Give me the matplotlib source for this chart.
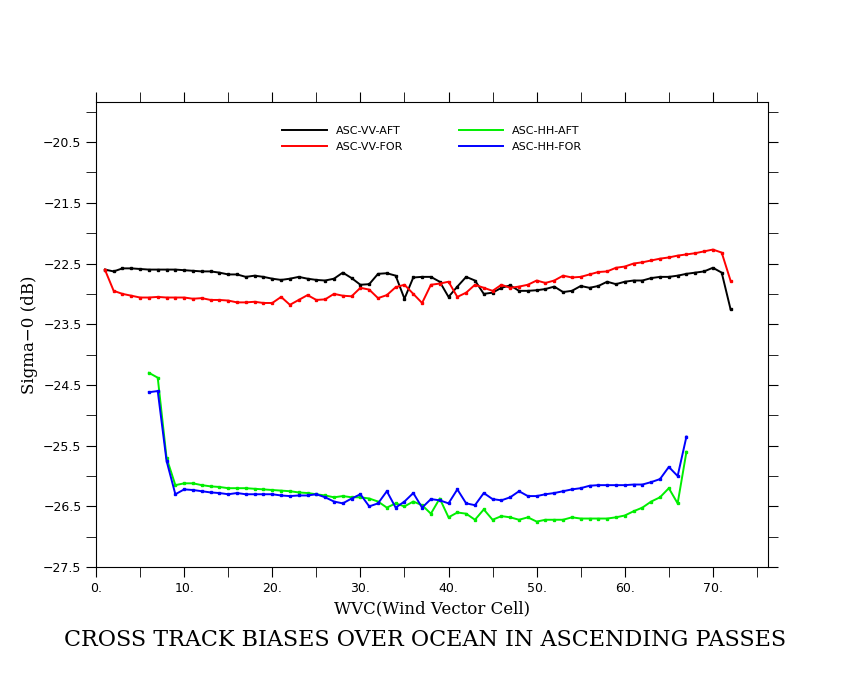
import numpy as np
import matplotlib
matplotlib.use("Agg")
import matplotlib.pyplot as plt

wvc_v = np.arange(1, 73)
v_aft = [-22.60, -22.63, -22.58, -22.58, -22.59, -22.60, -22.60, -22.60, -22.60, -22.61,
         -22.62, -22.63, -22.63, -22.65, -22.68, -22.68, -22.72, -22.70, -22.72, -22.75,
         -22.77, -22.75, -22.72, -22.75, -22.77, -22.78, -22.75, -22.65, -22.74, -22.85,
         -22.84, -22.67, -22.66, -22.70, -23.08, -22.73, -22.72, -22.72, -22.80, -23.05,
         -22.88, -22.72, -22.78, -23.00, -22.98, -22.90, -22.86, -22.95, -22.95, -22.94,
         -22.92, -22.88, -22.97, -22.95, -22.87, -22.90, -22.87, -22.80, -22.84, -22.80,
         -22.78, -22.78, -22.74, -22.72, -22.72, -22.70, -22.67, -22.65, -22.63, -22.57,
         -22.65, -23.25]
v_for = [-22.60, -22.95, -23.00, -23.03, -23.06, -23.06, -23.05, -23.06, -23.06, -23.06,
         -23.08, -23.07, -23.10, -23.10, -23.11, -23.14, -23.14, -23.13, -23.15, -23.15,
         -23.05, -23.18, -23.10, -23.02, -23.10, -23.09, -23.00, -23.03, -23.04, -22.90,
         -22.93, -23.07, -23.02, -22.89, -22.85, -23.00, -23.15, -22.85, -22.83, -22.80,
         -23.05, -22.98, -22.85, -22.90, -22.95, -22.85, -22.90, -22.88, -22.85, -22.78,
         -22.82, -22.78, -22.70, -22.73, -22.72, -22.68, -22.64, -22.63, -22.57, -22.55,
         -22.50, -22.48, -22.45, -22.42, -22.40, -22.37, -22.35, -22.33, -22.30, -22.27,
         -22.32, -22.78]
wvc_h = np.arange(6, 68)
hh_aft = [-24.30, -24.38, -25.70, -26.15, -26.12, -26.12, -26.15, -26.17, -26.18, -26.20,
          -26.20, -26.20, -26.21, -26.22, -26.23, -26.24, -26.25, -26.27, -26.28, -26.30,
          -26.32, -26.35, -26.33, -26.35, -26.35, -26.37, -26.42, -26.52, -26.45, -26.50,
          -26.42, -26.48, -26.62, -26.37, -26.68, -26.60, -26.62, -26.72, -26.55, -26.72,
          -26.66, -26.68, -26.72, -26.68, -26.75, -26.72, -26.72, -26.72, -26.68, -26.70,
          -26.70, -26.70, -26.70, -26.68, -26.65, -26.58, -26.52, -26.42, -26.35, -26.20,
          -26.45, -25.60]
hh_for = [-24.62, -24.60, -25.75, -26.30, -26.22, -26.23, -26.25, -26.27, -26.28, -26.30,
          -26.28, -26.30, -26.30, -26.30, -26.30, -26.32, -26.33, -26.32, -26.32, -26.30,
          -26.35, -26.42, -26.45, -26.37, -26.30, -26.50, -26.45, -26.25, -26.52, -26.42,
          -26.28, -26.52, -26.38, -26.40, -26.45, -26.22, -26.45, -26.48, -26.28, -26.38,
          -26.40, -26.35, -26.25, -26.33, -26.33, -26.30, -26.28, -26.25, -26.22, -26.20,
          -26.16, -26.15, -26.15, -26.15, -26.15, -26.14, -26.14, -26.10, -26.05, -25.85,
          -26.00, -25.35]

fig = plt.figure(figsize=(8.5, 6.8), dpi=100)
ax = fig.add_axes([0.113, 0.166, 0.791, 0.684])
kw = dict(lw=1.4, marker="s", ms=2)
ax.plot(wvc_v, v_aft, color="black", label="ASC-VV-AFT", **kw)
ax.plot(wvc_v, v_for, color="red", label="ASC-VV-FOR", **kw)
ax.plot(wvc_h, hh_aft, color="#00ee00", label="ASC-HH-AFT", **kw)
ax.plot(wvc_h, hh_for, color="blue", label="ASC-HH-FOR", **kw)

ax.set_xlim(0, 76.3)
ax.set_ylim(-27.5, -19.84)
ax.set_xticks(np.arange(0, 76, 10))
ax.set_xticklabels([f"{v}." for v in range(0, 76, 10)])
ax.set_xticks(np.arange(0, 76, 5), minor=True)
ax.set_yticks(np.arange(-27.5, -20.0, 1.0))
ax.set_yticklabels([f"{v:.1f}".replace("-", "\u2212") for v in np.arange(-27.5, -20.0, 1.0)])
ax.set_yticks(np.arange(-27.5, -19.9, 0.5), minor=True)
ax.tick_params(which="both", direction="out", top=True, right=True, labelsize=9, length=7)
ax.set_xlabel("WVC(Wind Vector Cell)", fontsize=12, family="DejaVu Serif")
ax.set_ylabel("Sigma\u22120 (dB)", fontsize=12, family="DejaVu Serif")
ax.legend(loc="upper center", bbox_to_anchor=(0.5, 0.97), ncol=2, frameon=False,
          fontsize=8, handlelength=4, columnspacing=5, markerscale=0)
fig.text(0.5, 0.05, "CROSS TRACK BIASES OVER OCEAN IN ASCENDING PASSES",
         ha="center", fontsize=16, family="DejaVu Serif")
fig.savefig("out.png")
